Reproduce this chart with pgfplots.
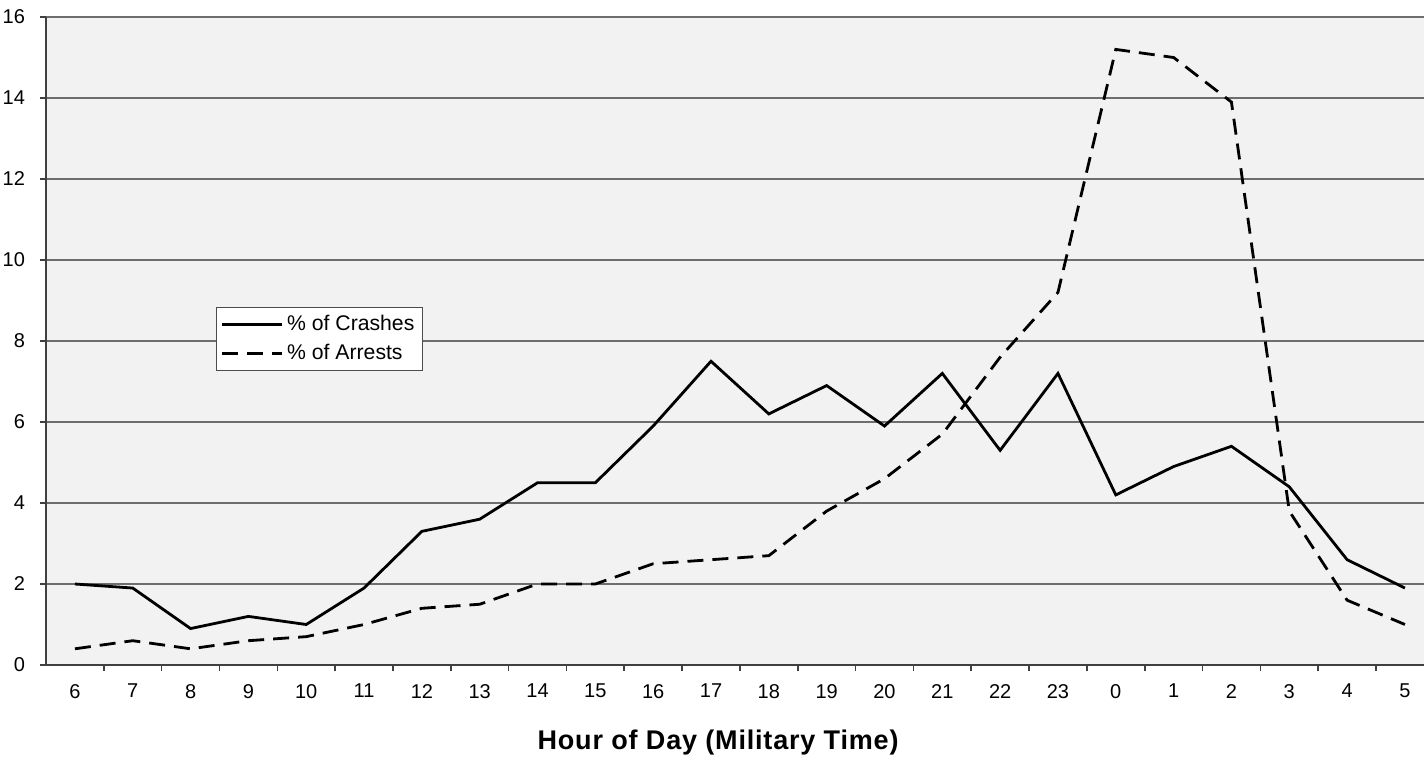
\documentclass[border=0pt]{standalone}
\usepackage{fontspec}
\setmainfont{Liberation Sans}
\usepackage{pgfplots}
\pgfplotsset{compat=1.18}
\definecolor{PlotBg}{HTML}{F2F2F2}
\definecolor{GridCol}{HTML}{6E6E6E}

\begin{document}
\begin{tikzpicture}
\begin{axis}[
  scale only axis,
  width=689pt, height=324pt,
  xmin=-0.5, xmax=23.33,
  ymin=0, ymax=16,
  axis x line*=bottom, axis y line*=left,
  axis line style={draw=black!75, line width=1pt},
  axis background/.style={fill=PlotBg},
  xtick={0,...,23},
  xticklabels={6,7,8,9,10,11,12,13,14,15,16,17,18,19,20,21,22,23,0,1,2,3,4,5},
  minor xtick={0.5,1.5,...,22.5},
  xtick style={draw=none},
  minor x tick style={draw=black!75, line width=0.8pt},
  minor tick length=3pt,
  ytick={0,2,...,16},
  ytick style={draw=black!75, line width=0.8pt},
  major tick length=3pt,
  tick align=outside,
  ymajorgrids,
  grid style={draw=GridCol, line width=0.6pt},
  tick label style={font=\fontsize{10}{12}\selectfont},
  /pgf/number format/assume math mode=true,
  xticklabel style={yshift=-3pt},
  yticklabel style={xshift=-4pt},
  xlabel={\addfontfeature{LetterSpace=3}\textbf{Hour of Day (Military Time)}},
  xlabel style={font=\fontsize{13.5}{15}\selectfont,
    at={(axis description cs:0.488,0)}, anchor=base, yshift=-42pt},
  legend style={at={(axis cs:2.44,8.84)}, anchor=north west,
    fill=white, draw=black!70, line width=0.6pt,
    font=\fontsize{10.6}{12}\selectfont, row sep=1pt,
    inner xsep=2pt, inner ysep=2pt},
  legend cell align=left,
  legend image code/.code={\draw[#1] (0cm,0cm) -- (1.05cm,0cm);},
]
\addplot[black, line width=1.4pt] coordinates {
  (0,2.0) (1,1.9) (2,0.9) (3,1.2) (4,1.0) (5,1.9) (6,3.3) (7,3.6)
  (8,4.5) (9,4.5) (10,5.9) (11,7.5) (12,6.2) (13,6.9) (14,5.9) (15,7.2)
  (16,5.3) (17,7.2) (18,4.2) (19,4.9) (20,5.4) (21,4.4) (22,2.6) (23,1.9)
};
\addplot[black, line width=1.4pt, dash pattern=on 8pt off 4.5pt] coordinates {
  (0,0.4) (1,0.6) (2,0.4) (3,0.6) (4,0.7) (5,1.0) (6,1.4) (7,1.5)
  (8,2.0) (9,2.0) (10,2.5) (11,2.6) (12,2.7) (13,3.8) (14,4.6) (15,5.7)
  (16,7.6) (17,9.2) (18,15.2) (19,15.0) (20,13.9) (21,3.8) (22,1.6) (23,1.0)
};
\legend{\% of Crashes, \% of Arrests}
\end{axis}
\pgfresetboundingbox
\path[use as bounding box] (-23pt,-45.5pt) rectangle (689pt,332.5pt);
\end{tikzpicture}
\end{document}
